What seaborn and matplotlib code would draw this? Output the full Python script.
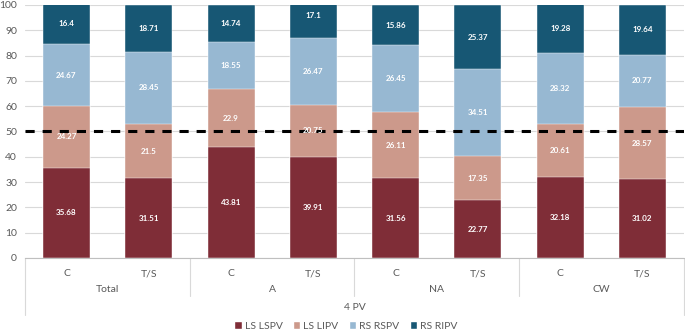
import seaborn as sns
import matplotlib.pyplot as plt
import matplotlib.transforms as mtransforms
from matplotlib.patches import Patch
import numpy as np
import pandas as pd

groups = ['Total', 'A', 'NA', 'CW']
subs = ['C', 'T/S']
series = ['LS LSPV', 'LS LIPV', 'RS RSPV', 'RS RIPV']
colors = ['#7F2D37', '#CC998B', '#97B8D2', '#175774']

ls_lspv = [35.68, 31.51, 43.81, 39.91, 31.56, 22.77, 32.18, 31.02]
ls_lipv = [24.27, 21.5, 22.9, 20.75, 26.11, 17.35, 20.61, 28.57]
rs_rspv = [24.67, 28.45, 18.55, 26.47, 26.45, 34.51, 28.32, 20.77]
rs_ripv = [16.4, 18.71, 14.74, 17.1, 15.86, 25.37, 19.28, 19.64]

sns.set_style('white')
plt.rcParams['font.family'] = ['Lato', 'DejaVu Sans']
grey = '#595959'

bars = [g + ' ' + s for g in groups for s in subs]
vals = np.array([ls_lspv, ls_lipv, rs_rspv, rs_ripv])
cum = np.cumsum(vals, axis=0)

fig = plt.figure(figsize=(6.85, 3.32), dpi=100)
ax = fig.add_axes([0.037, 0.223, 0.961, 0.762])

# draw from the top of the stack downwards so each segment covers the rest
for i in range(3, -1, -1):
    df = pd.DataFrame({'bar': bars, 'top': cum[i]})
    sns.barplot(data=df, x='bar', y='top', color=colors[i], order=bars,
                width=0.57, saturation=1, ax=ax, zorder=2,
                edgecolor='white', linewidth=0.3)

for i in range(4):
    for j in range(8):
        ax.text(j, cum[i, j] - vals[i, j] / 2, f'{vals[i, j]:g}', ha='center',
                va='center', color='white', fontsize=5.8, fontweight='bold', zorder=5)

ax.axhline(50, color='black', lw=2.2, ls=(0, (3.0, 2.6)), zorder=4)

ax.set_ylim(0, 100)
ax.set_xlim(-0.5, 7.5)
ax.set_yticks(range(0, 101, 10))
ax.yaxis.grid(True, color='#D9D9D9', lw=0.8, zorder=0)
ax.set_axisbelow(True)
for sp in ['left', 'right', 'top']:
    ax.spines[sp].set_visible(False)
ax.spines['bottom'].set_color('#BFBFBF')
ax.spines['bottom'].set_linewidth(0.8)
ax.tick_params(axis='y', length=0, labelsize=7.5, labelcolor=grey, pad=6)
ax.set_xticks(range(8), [s for g in groups for s in subs])
ax.tick_params(axis='x', length=0, labelsize=7.5, labelcolor=grey, pad=8)
ax.set_xlabel('')
ax.set_ylabel('')

trans = mtransforms.blended_transform_factory(ax.transData, ax.transAxes)
for k, g in enumerate(groups):
    ax.text(2 * k + 0.5, -0.125, g, transform=trans, ha='center', va='center',
            fontsize=7.5, color=grey)
for xb in [1.5, 3.5, 5.5]:
    ax.plot([xb, xb], [0, -0.15], transform=trans, color='#D9D9D9', lw=0.8, clip_on=False)
for xb in [-0.5, 7.5]:
    ax.plot([xb, xb], [0, -0.225], transform=trans, color='#D9D9D9', lw=0.8, clip_on=False)
ax.text(3.5, -0.195, '4 PV', transform=trans, ha='center', va='center',
        fontsize=7.5, color=grey)

handles = [Patch(facecolor=c, label=s) for c, s in zip(colors, series)]
fig.legend(handles=handles, loc='center', bbox_to_anchor=(0.505, 0.018), ncol=4,
           frameon=False, fontsize=7.5, handlelength=0.7, handleheight=0.7,
           handletextpad=0.3, columnspacing=1.0, labelcolor=grey)

fig.savefig('out.png', dpi=100)
